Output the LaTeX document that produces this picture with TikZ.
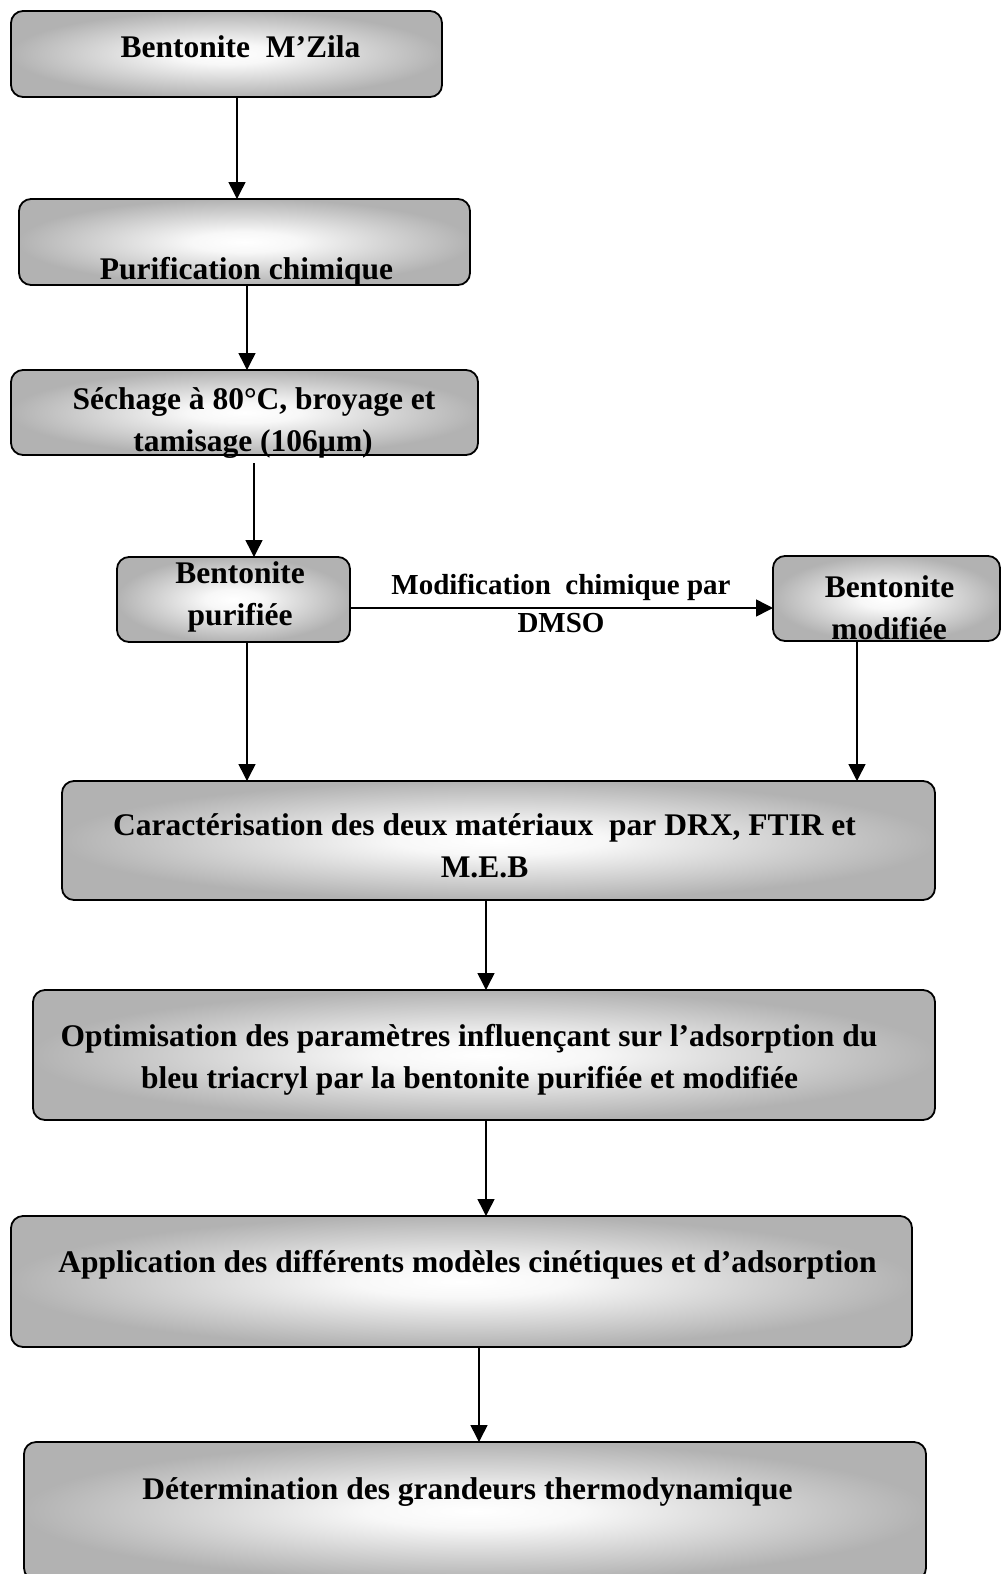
\documentclass[tikz,border=0pt]{standalone}
\usepackage{fontspec}
\setmainfont{Liberation Serif}
\usetikzlibrary{arrows.meta}
\pgfdeclareradialshading{boxshade}{\pgfpoint{0bp}{0bp}}{color(0bp)=(white); color(6bp)=(white!97!black); color(25bp)=(gray!60); color(50bp)=(gray!60)}
\tikzset{
  box/.style={draw, line width=1.8pt, rounded corners=12pt, shading=boxshade, outer sep=0pt, inner sep=0pt},
  lbl/.style={font=\bfseries\fontsize{31.5}{42}\selectfont, anchor=base, inner sep=0pt},
  arr/.style={line width=1.5pt, -{Triangle[length=17pt,width=17pt]}}
}
\begin{document}
\begin{tikzpicture}[x=1pt,y=-1pt]
\useasboundingbox (0,0) rectangle (1003,1574);
% boxes
\node[box, minimum width=431pt, minimum height=86pt] (b1) at (226.5,54) {};
\node[box, minimum width=451pt, minimum height=86pt] (b2) at (244.5,242) {};
\node[box, minimum width=467pt, minimum height=85pt] (b3) at (244.5,412.5) {};
\node[box, minimum width=233pt, minimum height=85pt] (b4) at (233.5,599.5) {};
\node[box, minimum width=227pt, minimum height=85pt] (b5) at (886.5,598.5) {};
\node[box, minimum width=873pt, minimum height=119pt] (b6) at (498.5,840.5) {};
\node[box, minimum width=902pt, minimum height=130pt] (b7) at (484,1055) {};
\node[box, minimum width=901pt, minimum height=131pt] (b8) at (461.5,1281.5) {};
\node[box, minimum width=902pt, minimum height=138pt] (b9) at (475,1511) {};
% texts
\node[lbl] (t1) at (240.5,57) {Bentonite\ \ M’Zila};
\node[lbl] (t2) at (246.5,279) {Purification chimique};
\node[lbl] (t3a) at (254,409) {Séchage à 80°C, broyage et};
\node[lbl] (t3b) at (253,451) {tamisage (106µm)};
\node[lbl] (t4a) at (240,583) {Bentonite};
\node[lbl] (t4b) at (240,625) {purifiée};
\node[lbl, font=\bfseries\fontsize{29}{40}\selectfont] (tma) at (561,594) {Modification\ \ chimique par};
\node[lbl, font=\bfseries\fontsize{29}{40}\selectfont] (tmb) at (561,632) {DMSO};
\node[lbl] (t5a) at (889.5,597) {Bentonite};
\node[lbl] (t5b) at (889,639) {modifiée};
\node[lbl] (t6a) at (484.5,835) {Caractérisation des deux matériaux\ \ par DRX, FTIR et};
\node[lbl] (t6b) at (484.5,877) {M.E.B};
\node[lbl] (t7a) at (469,1046) {Optimisation des paramètres influençant sur l’adsorption du};
\node[lbl] (t7b) at (469.5,1088) {bleu triacryl par la bentonite purifiée et modifiée};
\node[lbl] (t8) at (467.5,1272) {Application des différents modèles cinétiques et d’adsorption};
\node[lbl] (t9) at (467.5,1499) {Détermination des grandeurs thermodynamique};
% x positions of connectors
\coordinate (x1) at (237,0);
\coordinate (x2) at (247,0);
\coordinate (x3) at (254,0);
\coordinate (x4) at (247,0);
\coordinate (x5) at (857,0);
\coordinate (x6) at (486,0);
\coordinate (x8) at (479,0);
\coordinate (yh) at (0,608);
% connectors
\draw[arr] (b1.south -| x1) -- (b2.north -| x1);
\draw[arr] (b2.south -| x2) -- (b3.north -| x2);
\draw[arr, shorten <=8pt] (b3.south -| x3) -- (b4.north -| x3);
\draw[arr] (b4.east |- yh) -- (b5.west |- yh);
\draw[arr] (b4.south -| x4) -- (b6.north -| x4);
\draw[arr] (b5.south -| x5) -- (b6.north -| x5);
\draw[arr] (b6.south -| x6) -- (b7.north -| x6);
\draw[arr] (b7.south -| x6) -- (b8.north -| x6);
\draw[arr] (b8.south -| x8) -- (b9.north -| x8);
\end{tikzpicture}
\end{document}
